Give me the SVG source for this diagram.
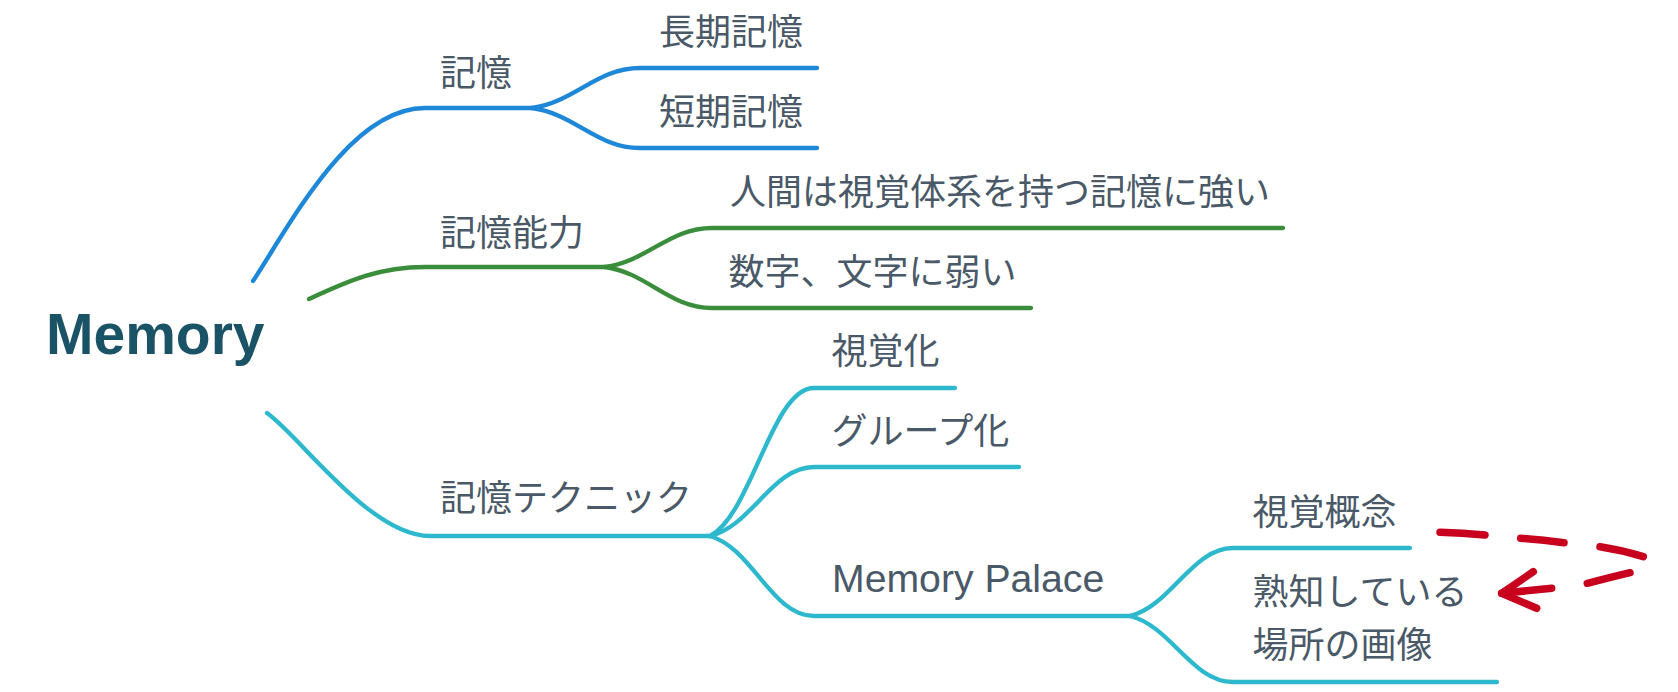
<svg xmlns="http://www.w3.org/2000/svg" width="1678" height="692" viewBox="0 0 1678 692">
<style>
.t{font-family:"Noto Sans CJK JP","Liberation Sans",sans-serif;font-size:36px;fill:#4a5968}
.lat{font-family:"Liberation Sans","Noto Sans CJK JP",sans-serif;font-size:39.2px;fill:#4a5968}
.root{font-family:"Liberation Sans",sans-serif;font-size:57px;font-weight:bold;fill:#1b5366}
.c{fill:none;stroke-width:4.3;stroke-linecap:round}
.blue{stroke:#1e87d8}
.green{stroke:#3a8e3b}
.cyan{stroke:#2db8cd}
.red{fill:none;stroke:#c8001e;stroke-width:7.5;stroke-linecap:round;stroke-linejoin:round}
</style>
<rect width="1678" height="692" fill="#ffffff"/>
<g id="connectors">
<path class="c blue" d="M253,281 C290,225 350,108 425,108 L532,108"/>
<path class="c blue" d="M532,108 C575,102 597,68 640,68 L817,68"/>
<path class="c blue" d="M532,108 C575,114 597,148 640,148 L817,148"/>
<path class="c green" d="M309,299 C350,280 380,267 425,267 L605,267"/>
<path class="c green" d="M605,267 C648,261 669,228 712,228 L1283,228"/>
<path class="c green" d="M605,267 C648,273 669,308 712,308 L1031,308"/>
<path class="c cyan" d="M267,413 C300,436 370,536 430,536 L710,536"/>
<path class="c cyan" d="M710,536 C752,514 772,388 814,388 L955,388"/>
<path class="c cyan" d="M710,536 C752,526 772,467 814,467 L1019,467"/>
<path class="c cyan" d="M710,536 C752,548 772,616 814,616 L1130,616"/>
<path class="c cyan" d="M1130,616 C1171,606 1192,548 1233,548 L1410,548"/>
<path class="c cyan" d="M1130,616 C1171,626 1192,682 1233,682 L1497,682"/>
</g>
<g id="root"><text class="root" x="46" y="354">Memory</text></g>
<g id="n-kioku"><text class="t" x="440" y="85.5">記憶</text></g>
<g id="n-choki"><text class="t" x="659" y="44.5">長期記憶</text></g>
<g id="n-tanki"><text class="t" x="659" y="124.5">短期記憶</text></g>
<g id="n-noryoku"><text class="t" x="440" y="245.5">記憶能力</text></g>
<g id="n-ningen"><text class="t" x="730" y="204.5">人間は視覚体系を持つ記憶に強い</text></g>
<g id="n-suji"><text class="t" x="728.5" y="284.5">数字、文字に弱い</text></g>
<g id="n-technique"><text class="t" x="440" y="511">記憶テクニック</text></g>
<g id="n-shikakuka"><text class="t" x="831.5" y="363.5">視覚化</text></g>
<g id="n-group"><text class="t" x="831.5" y="443.5">グループ化</text></g>
<g id="n-palace"><text class="lat" x="832" y="592">Memory Palace</text></g>
<g id="n-gainen"><text class="t" x="1252.5" y="524.5">視覚概念</text></g>
<g id="n-jukuchi"><text class="t" x="1252.5" y="604.5">熟知している</text><text class="t" x="1252.5" y="658">場所の画像</text></g>
<g id="annotation">
<path class="red" d="M1440,532.3 Q1462,533 1485,535"/>
<path class="red" d="M1520.7,538.3 Q1542,540 1564,542.7"/>
<path class="red" d="M1600,546.7 Q1622,550 1643.3,556.7"/>
<path class="red" d="M1630,572.7 Q1608,578 1587.3,583.3"/>
<path class="red" d="M1551.7,588.3 L1501.7,593.3"/>
<path class="red" d="M1533.3,571.7 L1501.7,593.3 L1536.7,608.3"/>
</g>
</svg>
